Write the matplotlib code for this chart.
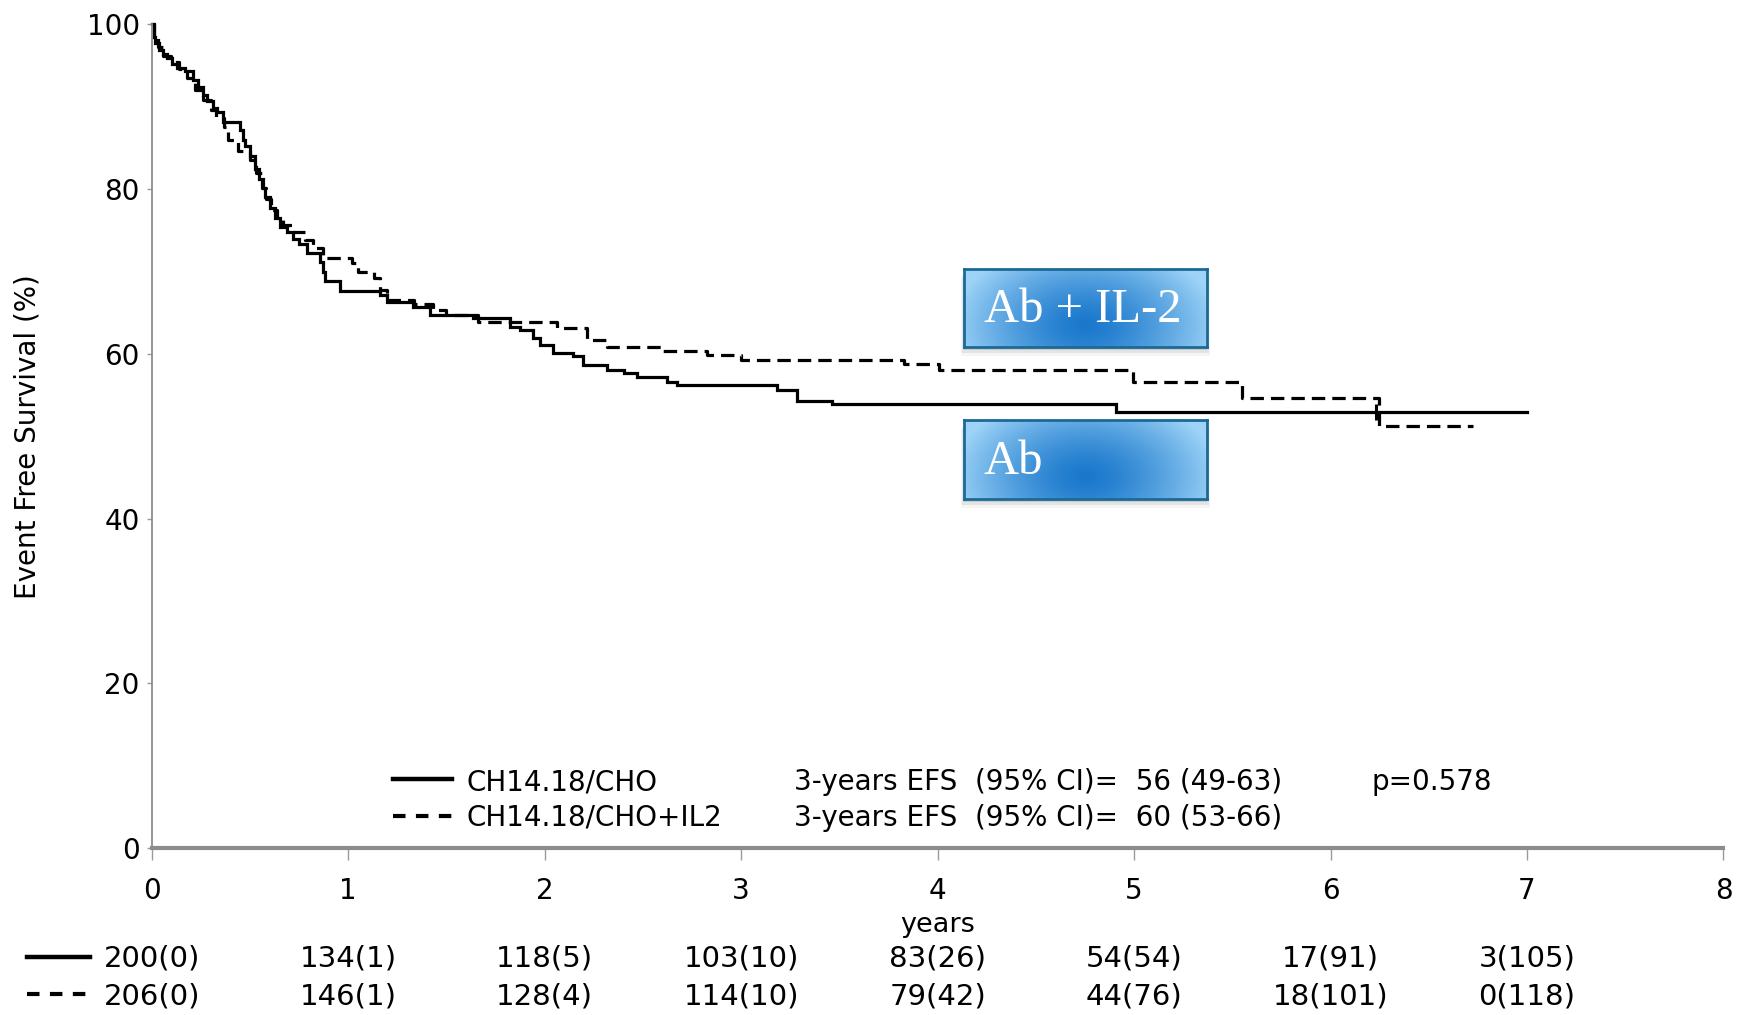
import numpy as np
import matplotlib
matplotlib.use("Agg")
import matplotlib.pyplot as plt
import matplotlib.transforms as mtransforms
from matplotlib.lines import Line2D
from matplotlib.patches import Rectangle

# ---------------- data ----------------
ab_time = [0, 0.01, 0.017, 0.04, 0.059, 0.08, 0.102, 0.13, 0.17, 0.212, 0.235, 0.26,
           0.28, 0.314, 0.335, 0.365, 0.45, 0.465, 0.475, 0.50, 0.526, 0.545, 0.565,
           0.577, 0.60, 0.628, 0.653, 0.69, 0.721, 0.75, 0.789, 0.857, 0.87, 0.882,
           0.959, 1.162, 1.196, 1.332, 1.417, 1.638, 1.825, 1.875, 1.943, 1.977, 2.045,
           2.147, 2.198, 2.317, 2.402, 2.469, 2.622, 2.673, 3.182, 3.284, 3.462, 4.908, 7.0]
ab_efs = [100, 98.5, 97.7, 96.9, 96.4, 95.9, 95.2, 94.7, 94.3, 93.3, 92.4, 91.4,
          90.7, 89.9, 89.4, 88.2, 87.2, 86.0, 85.2, 84.0, 82.5, 81.2, 80.1,
          79.0, 77.7, 76.5, 75.4, 74.8, 74.0, 73.4, 72.3, 71.2, 70.0, 68.8,
          67.6, 67.2, 66.3, 65.7, 64.7, 64.4, 63.3, 62.9, 61.9, 61.1, 60.1,
          59.7, 58.7, 58.1, 57.7, 57.2, 56.6, 56.2, 55.6, 54.3, 53.9, 53.0, 53.0]

abil2_time = [0, 0.012, 0.03, 0.06, 0.10, 0.14, 0.18, 0.22, 0.26, 0.30, 0.33, 0.37,
              0.39, 0.44, 0.50, 0.53, 0.56, 0.58, 0.61, 0.64, 0.67, 0.72, 0.78, 0.82,
              0.87, 1.02, 1.05, 1.13, 1.16, 1.20, 1.333, 1.43, 1.50, 1.66, 2.062, 2.215,
              2.317, 2.60, 2.826, 3.0, 3.83, 4.006, 4.995, 5.55, 6.246, 6.726]
abil2_efs = [100, 98.3, 97.3, 96.2, 95.4, 94.6, 93.5, 92.0, 90.8, 89.6, 88.6, 87.6,
             86.0, 84.6, 83.5, 82.0, 80.2, 78.8, 77.5, 76.5, 75.7, 74.8, 73.8, 72.8,
             71.7, 71.0, 69.9, 69.2, 67.7, 66.5, 66.0, 65.3, 64.7, 63.9, 63.1, 61.7,
             60.8, 60.4, 59.9, 59.3, 58.8, 58.0, 56.6, 54.6, 51.2, 51.2]

censor_ab_time = [6.23]
censor_ab_efs = [53.0]

x_ticks = [0, 1, 2, 3, 4, 5, 6, 7, 8]
y_ticks = [0, 20, 40, 60, 80, 100]
risk_years = [0, 1, 2, 3, 4, 5, 6, 7]
risk_ab = ["200(0)", "134(1)", "118(5)", "103(10)", "83(26)", "54(54)", "17(91)", "3(105)"]
risk_abil2 = ["206(0)", "146(1)", "128(4)", "114(10)", "79(42)", "44(76)", "18(101)", "0(118)"]
legend_labels = ["CH14.18/CHO", "CH14.18/CHO+IL2"]
efs_text = ["3-years EFS  (95% CI)=  56 (49-63)", "3-years EFS  (95% CI)=  60 (53-66)"]
p_text = "p=0.578"
box_labels = ["Ab + IL-2", "Ab"]
x_label = "years"
y_label = "Event Free Survival (%)"

# ---------------- figure ----------------
plt.rcParams['font.family'] = ['DejaVu Sans']
fig = plt.figure(figsize=(17.49, 10.15), dpi=100)
fig.patch.set_facecolor('white')
ax = fig.add_axes([0.0867, 0.1645, 0.8987, 0.8114])
ax.patch.set_alpha(0)

ax.step(ab_time, ab_efs, where='post', color='black', lw=2.3, clip_on=False,
        solid_joinstyle='miter')
ax.step(abil2_time, abil2_efs, where='post', color='black', lw=2.3,
        dashes=(4.2, 2.2), dash_capstyle='butt', clip_on=False)
ax.plot(censor_ab_time, censor_ab_efs, ls='none', marker='|', ms=11, mew=2.2,
        color='black')

ax.set_xlim(0, 8)
ax.set_ylim(0, 100)
ax.set_xticks(x_ticks)
ax.set_yticks(y_ticks)
ax.tick_params(axis='x', direction='out', length=8.6, width=1, color='#9a9a9a',
               labelsize=20, pad=12.5)
ax.tick_params(axis='y', direction='out', length=3.5, width=1, color='#9a9a9a',
               labelsize=20, pad=5)
for s in ['top', 'right']:
    ax.spines[s].set_visible(False)
ax.spines['left'].set_color('#8c8c8c')
ax.spines['left'].set_linewidth(1.3)
ax.spines['bottom'].set_color('#8c8c8c')
ax.spines['bottom'].set_linewidth(3)

# legend block inside the axes
ax.plot([1.227, 1.528], [8.4, 8.4], color='black', lw=3.2)
ax.plot([1.227, 1.528], [3.9, 3.9], color='black', lw=3.0, dashes=(3.0, 2.5),
        dash_capstyle='butt')
ax.text(1.60, 8.0, legend_labels[0], va='center', ha='left', fontsize=20)
ax.text(1.60, 3.66, legend_labels[1], va='center', ha='left', fontsize=20)
ax.text(3.27, 8.0, efs_text[0], va='center', ha='left', fontsize=20)
ax.text(3.27, 3.66, efs_text[1], va='center', ha='left', fontsize=20)
ax.text(6.21, 8.0, p_text, va='center', ha='left', fontsize=20)

# axis labels
blend = mtransforms.blended_transform_factory(ax.transData, fig.transFigure)
ax.text(4, 0.0887, x_label, transform=blend, ha='center', va='center', fontsize=19.5)
fig.text(0.016, 0.5695, y_label, rotation=90, ha='center', va='center', fontsize=20)

# numbers at risk
for yr, a, b in zip(risk_years, risk_ab, risk_abil2):
    ax.text(yr, 0.0552, a, transform=blend, ha='center', va='center', fontsize=21)
    ax.text(yr, 0.0187, b, transform=blend, ha='center', va='center', fontsize=21)
fig.add_artist(Line2D([0.0155, 0.0515], [0.0572, 0.0572], transform=fig.transFigure,
                      color='black', lw=3.2))
fig.add_artist(Line2D([0.0155, 0.0515], [0.0207, 0.0207], transform=fig.transFigure,
                      color='black', lw=3.0, dashes=(3.0, 2.5), dash_capstyle='butt'))

# gradient boxes
ny, nx = 120, 240
yy, xx = np.mgrid[0:1:ny * 1j, 0:1:nx * 1j]
t = np.sqrt(((xx - 0.5) / 0.55) ** 2 + ((yy - 0.28) / 1.1) ** 2)
t = np.clip(t, 0, 1) ** 1.4
dark = np.array([0.10, 0.47, 0.80])
light = np.array([0.62, 0.83, 0.97])
grad = dark[None, None, :] * (1 - t[..., None]) + light[None, None, :] * t[..., None]

box_rects = [[0.5512, 0.6581, 0.1389, 0.0768], [0.5512, 0.5084, 0.1389, 0.0778]]
for rect, lab in zip(box_rects, box_labels):
    for k, a in enumerate([0.10, 0.07, 0.04]):
        off = 0.003 * (k + 1)
        fig.add_artist(Rectangle((rect[0] - 0.001 * k, rect[1] - off), rect[2] + 0.002 * k,
                                 rect[3], transform=fig.transFigure, facecolor='black',
                                 edgecolor='none', alpha=a, zorder=4))
    bax = fig.add_axes(rect, zorder=5)
    bax.imshow(grad, origin='lower', aspect='auto', extent=[0, 1, 0, 1],
               interpolation='bilinear')
    bax.set_xticks([])
    bax.set_yticks([])
    for s in bax.spines.values():
        s.set_color('#1b6a96')
        s.set_linewidth(2)
    bax.text(0.082, 0.47, lab, color='white', fontsize=35, family='Liberation Serif',
             ha='left', va='center', transform=bax.transAxes)

fig.savefig('out.png', dpi=100, facecolor='white')
